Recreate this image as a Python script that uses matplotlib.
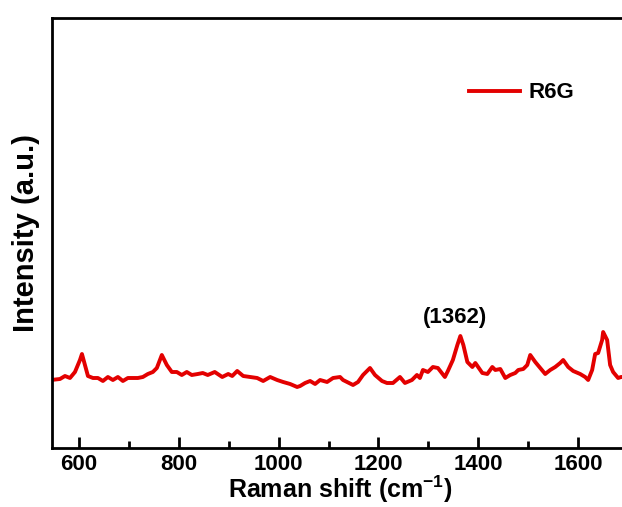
import matplotlib
matplotlib.use('Agg')
import matplotlib.pyplot as plt
from matplotlib.ticker import MultipleLocator

plt.rcParams['font.family'] = ['Liberation Sans', 'DejaVu Sans']
plt.rcParams['font.weight'] = 'bold'
plt.rcParams['mathtext.fontset'] = 'custom'
plt.rcParams['mathtext.rm'] = 'Liberation Sans:bold'
plt.rcParams['mathtext.bf'] = 'Liberation Sans:bold'

# R6G Raman spectrum (wavenumber in cm-1, intensity in a.u.)
shift = [544, 562, 572, 582, 592, 602, 606, 612, 618, 628, 638, 648, 658, 668, 678,
         688, 698, 708, 718, 728, 738, 748, 756, 766, 776, 786, 796, 806, 816, 826,
         838, 848, 858, 872, 887, 899, 907, 917, 929, 943, 957, 969, 983, 997, 1009,
         1023, 1037, 1043, 1053, 1063, 1073, 1083, 1097, 1109, 1123, 1129, 1149, 1159,
         1169, 1183, 1193, 1207, 1217, 1229, 1243, 1253, 1267, 1277, 1283, 1289, 1299,
         1309, 1319, 1333, 1339, 1349, 1358, 1364, 1370, 1378, 1388, 1394, 1408, 1418,
         1428, 1434, 1444, 1454, 1464, 1474, 1480, 1490, 1498, 1504, 1514, 1524, 1534,
         1544, 1554, 1564, 1570, 1580, 1590, 1604, 1614, 1620, 1628, 1634, 1640, 1648,
         1650, 1658, 1664, 1670, 1680, 1686, 1700]
intensity = [680, 690, 720, 700, 760, 880, 940, 830, 720, 700, 700, 670, 710, 680, 710,
             670, 700, 700, 700, 710, 740, 760, 800, 930, 830, 760, 760, 730, 760, 730,
             740, 750, 730, 760, 710, 740, 720, 770, 720, 710, 700, 670, 710, 680, 660,
             640, 610, 620, 650, 670, 640, 680, 660, 700, 710, 680, 630, 660,
             730, 800, 730, 670, 650, 650, 710, 650, 680, 730, 700, 780, 760,
             810, 800, 710, 770, 880, 1030, 1120, 1030, 860, 810, 850, 750, 740,
             810, 780, 790, 700, 730, 750, 780, 790, 830, 930, 860, 800, 740,
             780, 810, 850, 880, 810, 770, 740, 710, 680, 780, 940, 950, 1080,
             1160, 1080, 830, 760, 700, 710, 710]

peak_label = '(1362)'
peak_pos = 1362

fig = plt.figure(figsize=(6.22, 5.07), dpi=100)
ax = fig.add_axes([0.0828, 0.1164, 0.927, 0.848])

ax.plot(shift, intensity, color='#e30000', lw=2.8, label='R6G')
ax.text(peak_pos - 8, 1200, peak_label, fontsize=16, fontweight='bold',
        ha='center', va='bottom')

ax.set_xlim(545, 1700)
ax.set_ylim(0, 4300)

ax.xaxis.set_major_locator(MultipleLocator(200))
ax.xaxis.set_minor_locator(MultipleLocator(100))
ax.tick_params(axis='x', which='major', direction='in', length=8, width=2,
               labelsize=16, pad=4)
ax.tick_params(axis='x', which='minor', direction='in', length=5, width=2)
ax.set_yticks([])
for sp in ax.spines.values():
    sp.set_linewidth(2)

ax.set_xlabel('Raman shift (cm$^{\\mathbf{-1}}$)', fontsize=18, fontweight='bold', labelpad=-1)
ax.set_ylabel('Intensity (a.u.)', fontsize=21, fontweight='bold', labelpad=8)

ax.legend(loc='upper left', bbox_to_anchor=(0.69, 0.897), frameon=False,
          handlelength=2.3, handletextpad=0.35,
          prop={'weight': 'bold', 'size': 16})

fig.savefig('out.png', dpi=100)
